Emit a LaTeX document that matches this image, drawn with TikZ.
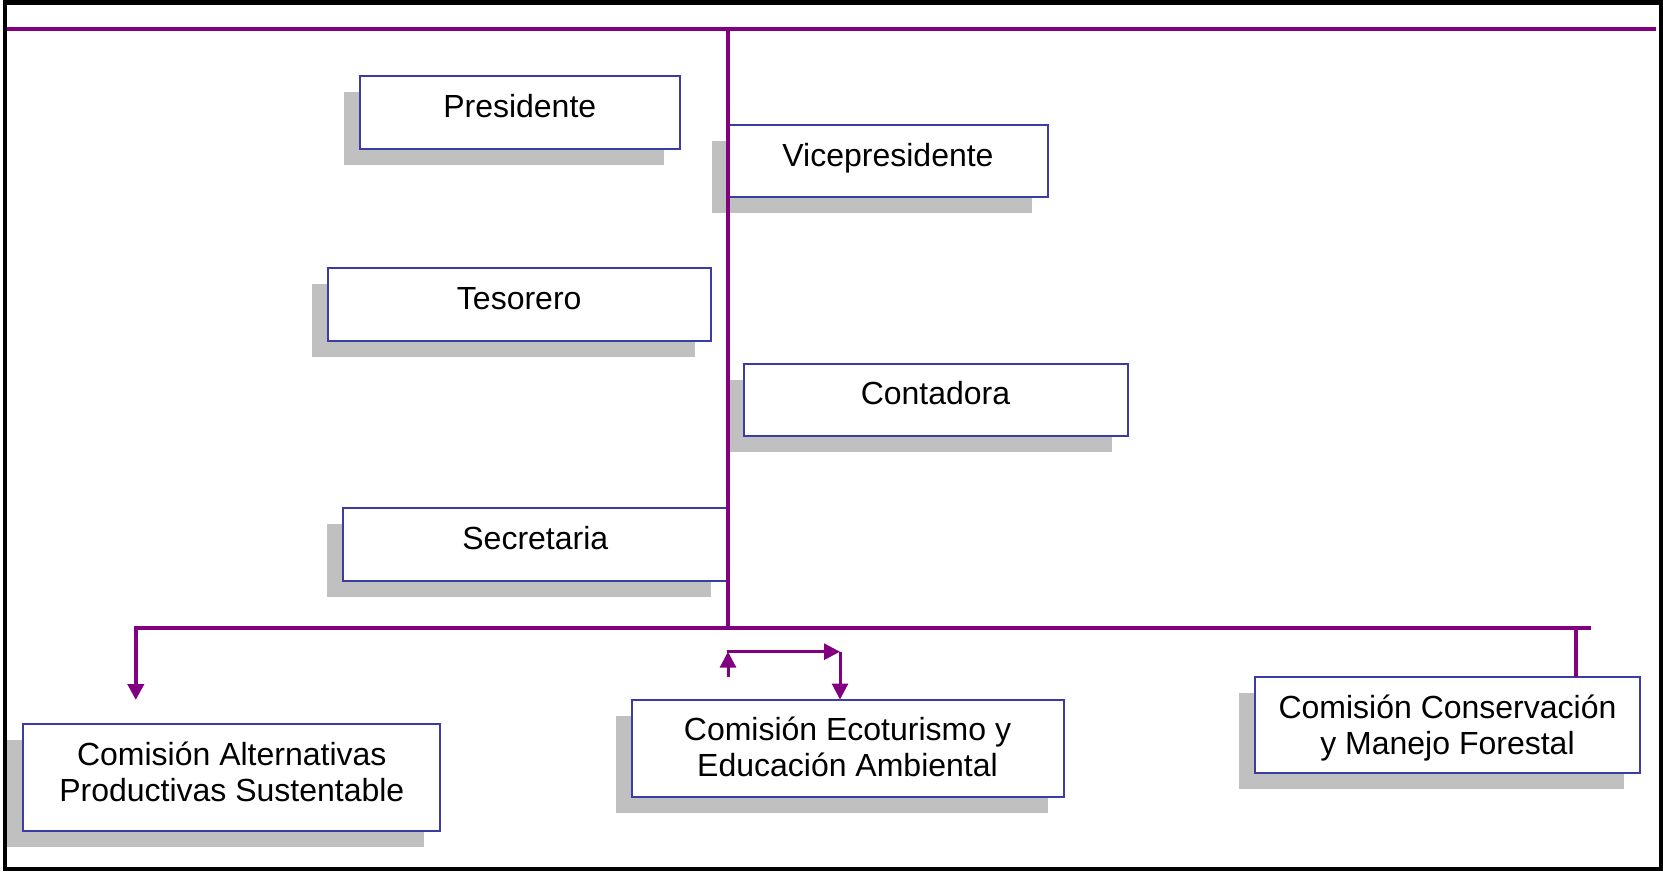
\documentclass[tikz,border=0pt]{standalone}
\usepackage{fontspec}
\setmainfont{Liberation Sans}
\usetikzlibrary{arrows.meta,shadows}
\definecolor{orgpurple}{RGB}{128,0,128}
\definecolor{boxblue}{RGB}{60,60,166}
\definecolor{shgray}{RGB}{192,192,192}
\newcommand{\twol}[2]{\begin{tabular}[t]{@{}c@{}}#1\\#2\end{tabular}}
\begin{document}
\begin{tikzpicture}[x=1pt,y=-1pt,
  orgbox/.style={draw=boxblue, line width=2pt, fill=white, inner sep=0pt, outer sep=0pt,
    anchor=north west, text height=41pt, font=\fontsize{32}{36}\selectfont,
    drop shadow={shadow xshift=-16pt, shadow yshift=-16pt, fill=shgray, draw=none, opacity=1}},
  mainline/.style={draw=orgpurple, line width=4pt, line join=miter},
  thinline/.style={draw=orgpurple, line width=3pt},
  arrowtip/.style={-{Triangle[length=16pt,width=16pt]}}
]
\useasboundingbox (0,0) rectangle (1663,871);
\draw[line width=4.5pt] (5,2.5) rectangle (1661,869);

% boxes
\node[orgbox, minimum width=320.5pt, text depth=31.5pt] (pres) at (359.5,76) {Presidente};
\node[orgbox, minimum width=320pt, text depth=31pt] (vice) at (728,125) {Vicepresidente};
\node[orgbox, minimum width=383pt, text depth=31.2pt] (teso) at (327.7,268.3) {Tesorero};
\node[orgbox, minimum width=384pt, text depth=31pt] (conta) at (743.5,363.8) {Contadora};
\node[orgbox, minimum width=384pt, text depth=31.4pt] (secr) at (343.3,508.3) {Secretaria};
\node[orgbox, minimum width=417pt, text depth=65.2pt] (alt) at (23.3,724.4) {\twol{Comisión Alternativas}{Productivas Sustentable}};
\node[orgbox, minimum width=432pt, text depth=56pt] (eco) at (631.5,699.5) {\twol{Comisión Ecoturismo y}{Educación Ambiental}};
\node[orgbox, minimum width=385pt, text depth=55pt] (cons) at (1255,677) {\twol{Comisión Conservación}{y Manejo Forestal}};

% lines
\coordinate (tl) at (7,28.5);
\coordinate (tr) at (1655.5,28.5);
\draw[mainline] (tl) -- (tr);
\coordinate (vt) at (727.5,28.5);
\coordinate (vb) at (727.5,628.3);
\draw[mainline] (vt) -- (vb);
\coordinate (hl) at (135.8,628.3);
\coordinate (hr) at (1591,628.3);
\coordinate (altarrow) at (135.8,700);
\draw[mainline, arrowtip] (hr) -- (hl) -- (altarrow);
\coordinate (consdrop) at (1576,628.3);
\draw[mainline] (consdrop) -- (consdrop |- cons.north);

% middle arrows
\coordinate (mu0) at (728,677);
\coordinate (mu1) at (728,651.7);
\coordinate (mhl) at (726.7,651.7);
\coordinate (mr) at (840,651.7);
\draw[thinline, arrowtip] (mu0) -- (mu1);
\draw[thinline, arrowtip] (mhl) -- (mr);
\draw[thinline, arrowtip] (mr) -- (mr |- eco.north);
\end{tikzpicture}
\end{document}
